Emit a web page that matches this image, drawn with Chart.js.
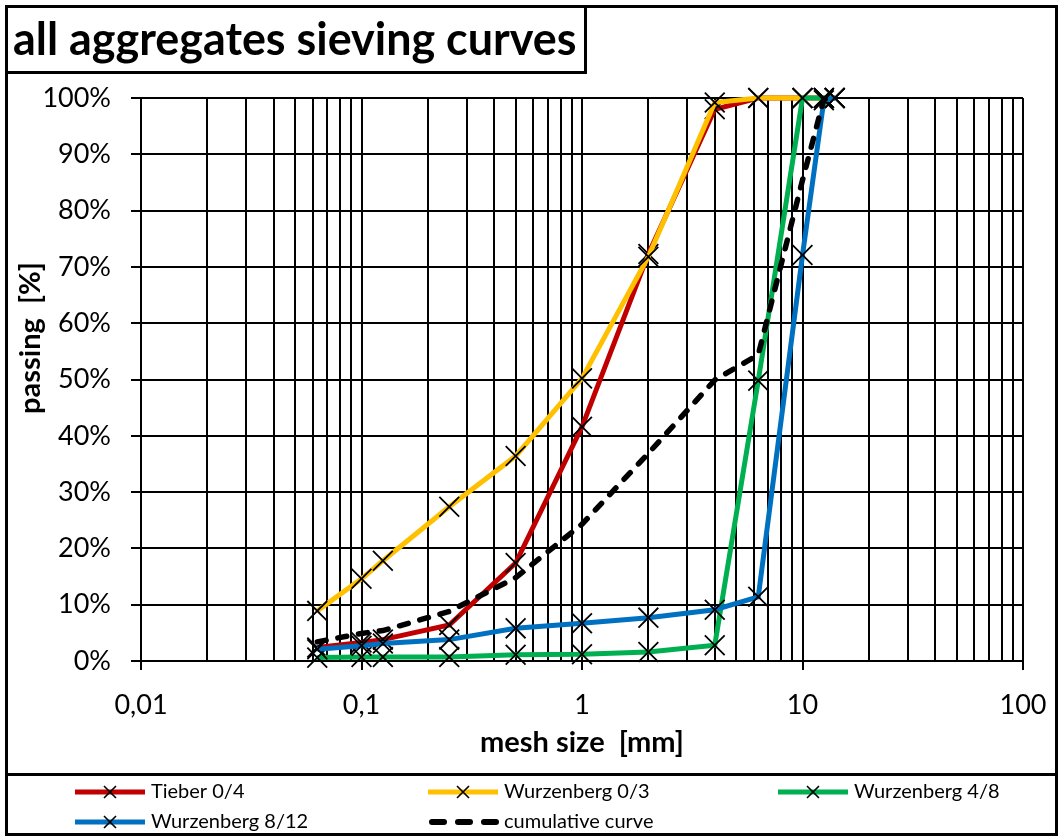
<!DOCTYPE html>
<html>
<head>
<meta charset="utf-8">
<script src="https://cdn.jsdelivr.net/npm/chart.js@4/dist/chart.umd.min.js"></script>
<style>
  html, body { margin: 0; padding: 0; background: #fff; }
  #wrap { width: 1059px; height: 836px; position: relative; }
</style>
</head>
<body>
<div id="wrap"><canvas id="sieve" width="1059" height="836"></canvas></div>
<script>
// Sieve mesh sizes [mm] and passing percentages per aggregate
const sieveSizes = [0.063, 0.1, 0.125, 0.25, 0.5, 1, 2, 4, 6.3, 10, 12.5, 14];
const tieber04     = [2.4, 3.3, 3.8, 6.4, 17.4, 41.6, 72.3, 98.0, 100, 100, 100, 100];
const wurzenberg03 = [8.9, 14.6, 17.8, 27.4, 36.4, 50.2, 71.8, 99.2, 100, 100, 100, 100];
const wurzenberg48 = [0.6, 0.7, 0.7, 0.7, 1.1, 1.2, 1.6, 2.8, 49.8, 100, 100, 100];
const wurzenberg812 = [2.1, 2.7, 3.1, 3.8, 5.8, 6.7, 7.7, 9.1, 11.4, 72.1, 99.6, 100];
const cumulativeCurve = [3.4, 4.9, 5.4, 8.8, 14.8, 24.3, 36.9, 49.9, 54.4, 85.4, 99.8, 100];

// Axis labelling
const xLabelValues = [0.01, 0.1, 1, 10, 100];
const xLabelTexts = ['0,01', '0,1', '1', '10', '100'];
const gridDecades = [0.01, 0.1, 1, 10];
const gridMultipliers = [1, 2, 3, 4, 5, 6, 7, 8, 9];

const chartTitle = 'all aggregates sieving curves';
const xTitle = 'mesh size  [mm]';
const yTitle = 'passing  [%]';

const FONT = 'Lato, "Open Sans", sans-serif';

const gridValues = [];
gridDecades.forEach(d => gridMultipliers.forEach(m => gridValues.push(parseFloat((d * m).toPrecision(6)))));
gridValues.push(100);

function decadeIndex(v) {
  return xLabelValues.findIndex(d => Math.abs(Math.log10(v) - Math.log10(d)) < 1e-6);
}

function toPoints(values) {
  return sieveSizes.map((s, i) => ({ x: s, y: values[i] }));
}

function series(label, values, color, extra) {
  return Object.assign({
    label: label,
    data: toPoints(values),
    borderColor: color,
    backgroundColor: color,
    borderWidth: 5,
    tension: 0,
    pointStyle: 'crossRot',
    pointRadius: 14,
    pointHoverRadius: 14,
    pointBorderColor: '#000',
    pointBackgroundColor: 'rgba(0,0,0,0)',
    pointBorderWidth: 1.8,
    clip: false
  }, extra || {});
}

const datasets = [
  series('Tieber 0/4', tieber04, '#C00000', { order: 5 }),
  series('Wurzenberg 0/3', wurzenberg03, '#FFC000', { order: 4 }),
  series('Wurzenberg 4/8', wurzenberg48, '#00B050', { order: 3 }),
  series('Wurzenberg 8/12', wurzenberg812, '#0070C0', { order: 2 }),
  series('cumulative curve', cumulativeCurve, '#000000', {
    order: 1, pointRadius: 0, pointHoverRadius: 0, borderWidth: 5.5,
    borderDash: [9, 12], borderCapStyle: 'round'
  })
];

// Frame, title box, rotated y title and the column legend at the bottom
const legendSlots = [[75, 792], [428, 792], [778, 792], [75, 822], [428, 822]];

const decorPlugin = {
  id: 'decor',
  afterDraw(chart) {
    const ctx = chart.ctx;
    ctx.save();
    ctx.strokeStyle = '#000';
    ctx.lineWidth = 3;
    ctx.strokeRect(6.5, 6.5, 1050, 828);
    ctx.strokeRect(6.5, 6.5, 579, 66);
    ctx.beginPath();
    ctx.moveTo(6, 774.5);
    ctx.lineTo(1058, 774.5);
    ctx.stroke();

    // chart title, fitted to its box
    ctx.fillStyle = '#000';
    ctx.textBaseline = 'middle';
    ctx.textAlign = 'left';
    let size = 40;
    ctx.font = 'bold ' + size + 'px ' + FONT;
    const w = ctx.measureText(chartTitle).width;
    size = size * 563 / w;
    ctx.font = 'bold ' + size.toFixed(1) + 'px ' + FONT;
    ctx.fillText(chartTitle, 13, 41);

    // y axis title
    ctx.save();
    ctx.translate(31, 338);
    ctx.rotate(-Math.PI / 2);
    ctx.textAlign = 'center';
    ctx.font = 'bold 29px ' + FONT;
    ctx.fillText(yTitle, 0, 0);
    ctx.restore();

    // legend
    chart.data.datasets.forEach((ds, i) => {
      const [x, y] = legendSlots[i];
      ctx.save();
      ctx.strokeStyle = ds.borderColor;
      ctx.lineWidth = ds.borderDash ? 6 : 5;
      ctx.lineCap = ds.borderDash ? 'round' : 'butt';
      ctx.setLineDash(ds.borderDash ? [12, 14] : []);
      ctx.beginPath();
      ctx.moveTo(x + (ds.borderDash ? 4 : 0), y);
      ctx.lineTo(x + 70, y);
      ctx.stroke();
      ctx.setLineDash([]);
      if (ds.pointRadius > 0) {
        const cx = x + 35, r = 6;
        ctx.strokeStyle = '#000';
        ctx.lineWidth = 1.6;
        ctx.lineCap = 'butt';
        ctx.beginPath();
        ctx.moveTo(cx - r, y - r); ctx.lineTo(cx + r, y + r);
        ctx.moveTo(cx + r, y - r); ctx.lineTo(cx - r, y + r);
        ctx.stroke();
      }
      ctx.fillStyle = '#000';
      ctx.font = '20px ' + FONT;
      ctx.textBaseline = 'middle';
      ctx.textAlign = 'left';
      ctx.fillText(ds.label, x + 76, y);
      ctx.restore();
    });
    ctx.restore();
  }
};

new Chart(document.getElementById('sieve'), {
  type: 'line',
  data: { datasets: datasets },
  plugins: [decorPlugin],
  options: {
    responsive: false,
    animation: false,
    events: [],
    layout: { padding: { left: 6, top: 98, right: 36, bottom: 62 } },
    plugins: { legend: { display: false }, tooltip: { enabled: false }, title: { display: false } },
    scales: {
      x: {
        type: 'logarithmic',
        min: 0.01,
        max: 100,
        afterBuildTicks(scale) { scale.ticks = gridValues.map(v => ({ value: v })); },
        afterFit(scale) {
          scale.height = 113;
          scale.paddingLeft = 0;
          scale.paddingRight = 0;
        },
        ticks: {
          autoSkip: false,
          maxRotation: 0,
          minRotation: 0,
          padding: 19,
          color: '#000',
          font: { family: FONT, size: 27 },
          callback(value) {
            const k = decadeIndex(value);
            return k >= 0 ? xLabelTexts[k] : '';
          }
        },
        grid: {
          color: '#000',
          lineWidth: 2,
          drawTicks: true,
          tickLength: 9,
          tickColor(ctx) { return ctx.tick && decadeIndex(ctx.tick.value) >= 0 ? '#000' : 'rgba(0,0,0,0)'; }
        },
        border: { display: true, color: '#000', width: 2 },
        title: {
          display: true,
          text: xTitle,
          color: '#000',
          font: { family: FONT, size: 29, weight: 'bold' },
          padding: { top: 0, bottom: 14 }
        }
      },
      y: {
        min: 0,
        max: 100,
        afterFit(scale) { scale.width = 135; },
        ticks: {
          stepSize: 10,
          padding: 20,
          color: '#000',
          font: { family: FONT, size: 27 },
          callback(value) { return value + '%'; }
        },
        grid: { color: '#000', lineWidth: 2, drawTicks: true, tickLength: 10, tickColor: '#000' },
        border: { display: true, color: '#000', width: 2 }
      }
    }
  }
});
</script>
</body>
</html>
